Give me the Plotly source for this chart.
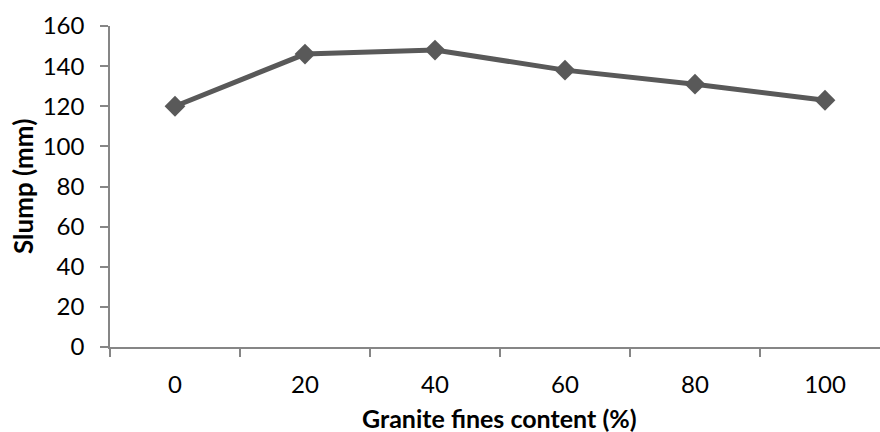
import plotly.graph_objects as go

# Slump test results against granite fines replacement level
fines_content = ["0", "20", "40", "60", "80", "100"]
slump_mm = [120, 146, 148, 138, 131, 123]
y_ticks = [0, 20, 40, 60, 80, 100, 120, 140, 160]

line_color = "#595959"
axis_color = "#868686"
font_family = "Lato, 'Open Sans', 'Liberation Sans', sans-serif"

fig = go.Figure(
    go.Scatter(
        x=fines_content,
        y=slump_mm,
        mode="lines+markers",
        line=dict(color=line_color, width=5),
        marker=dict(symbol="diamond", size=16, color=line_color),
        showlegend=False,
    )
)

fig.update_layout(
    width=880,
    height=432,
    margin=dict(l=110, r=0, t=26, b=85),
    paper_bgcolor="white",
    plot_bgcolor="white",
    font=dict(family=font_family, size=24, color="black"),
)

fig.update_xaxes(
    type="category",
    range=[-0.5, 5.5 - 10 / 130],
    tickson="boundaries",
    ticks="outside",
    ticklen=8,
    tickwidth=1.5,
    tickcolor=axis_color,
    showline=True,
    linecolor=axis_color,
    linewidth=1.5,
    showgrid=False,
    zeroline=False,
    ticklabelstandoff=15,
)

fig.update_yaxes(
    range=[0, 160],
    tickvals=y_ticks,
    ticks="outside",
    ticklen=8,
    tickwidth=1.5,
    tickcolor=axis_color,
    showline=True,
    linecolor=axis_color,
    linewidth=1.5,
    showgrid=False,
    zeroline=False,
    ticklabelstandoff=11,
)

fig.add_annotation(
    text="<b>Granite fines content (%)</b>",
    xref="paper", yref="paper",
    x=(500 - 110) / 770, y=-(418 - 347) / 321,
    showarrow=False,
    font=dict(size=25),
    xanchor="center", yanchor="middle",
)
fig.add_annotation(
    text="<b>Slump (mm)</b>",
    xref="paper", yref="paper",
    x=-(110 - 23) / 770, y=(347 - 187) / 321,
    textangle=-90,
    showarrow=False,
    font=dict(size=26),
    xanchor="center", yanchor="middle",
)

fig.write_html("out.html")
